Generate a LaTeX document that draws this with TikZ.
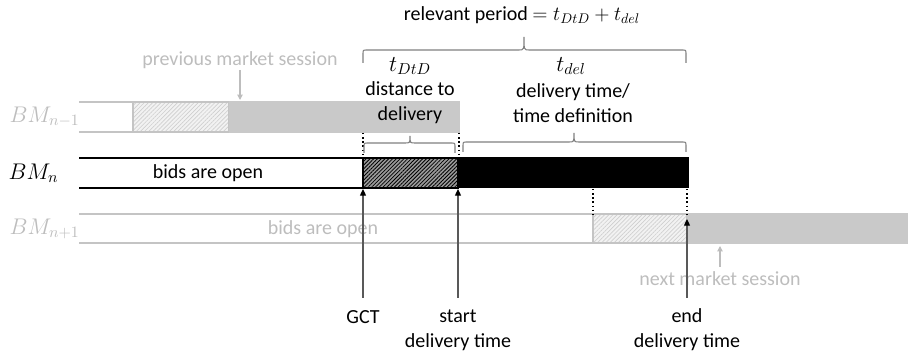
\RequirePackage{fix-cm}
\documentclass[tikz,border=0pt]{standalone}
\usepackage{fontspec}
\setmainfont{Carlito}
\usetikzlibrary{arrows.meta,patterns.meta}
\definecolor{barGray}{HTML}{C9C9C9}
\definecolor{lineGray}{HTML}{C4C4C4}
\definecolor{textGray}{HTML}{BDBDBD}
\definecolor{braceGray}{HTML}{808080}
\definecolor{shaftGray}{HTML}{595959}
\definecolor{hatchLightBg}{HTML}{F2F2F2}
\definecolor{hatchLightLn}{HTML}{CFCFCF}
\definecolor{hatchDarkBg}{HTML}{9A9A9A}
\newcommand{\mybrace}[6]{% x1 x2 xm yend yline ytip
  \draw[bracestyle] (#1,#4) -- (#1,#5+4) .. controls (#1,#5) .. (#1+4,#5) -- (#3-5,#5) .. controls (#3,#5) .. (#3,#6)
    .. controls (#3,#5) .. (#3+5,#5) -- (#2-4,#5) .. controls (#2,#5) .. (#2,#5+4) -- (#2,#4);}
\begin{document}
\begin{tikzpicture}[x=0.75pt,y=-0.75pt,
  every node/.style={font=\fontsize{15}{18.75}\selectfont, inner sep=1pt},
  txt/.style={align=center},
  gtxt/.style={align=center,text=textGray},
  mathlbl/.style={font=\fontsize{17}{20}\selectfont},
  bracestyle/.style={draw=braceGray,line width=0.8pt},
  blackline/.style={draw=black,line width=1.1pt},
  grayline/.style={draw=lineGray,line width=1.3pt},
  dotline/.style={draw=black,dotted,line width=1.1pt},
  uparrow/.style={draw=shaftGray,line width=0.9pt,-{Triangle[length=5pt,width=4.5pt,color=black]}},
  grayarrow/.style={draw=textGray,line width=0.8pt,-{Triangle[length=4pt,width=4pt]}}]
\useasboundingbox (0,0) rectangle (908,359);

% ---- BM_{n-1} row
\draw[grayline] (79,102) -- (133,102);
\draw[grayline] (79,132) -- (133,132);
\fill[hatchLightBg] (133,102) rectangle (229,132);
\path[pattern={Lines[angle=45,distance=2.2pt,line width=0.5pt]},pattern color=hatchLightLn] (133,102) rectangle (229,132);
\draw[lineGray,line width=1pt] (133,102) rectangle (229,132);
\fill[barGray] (229,101.3) rectangle (460,132.7);

% ---- BM_n row
\draw[blackline] (79,158) -- (363,158);
\draw[blackline] (79,188) -- (363,188);
\fill[hatchDarkBg] (363,158) rectangle (458,188);
\path[pattern={Lines[angle=45,distance=2pt,line width=0.6pt]},pattern color=black] (363,158) rectangle (458,188);
\draw[black,line width=1.1pt] (363,158) rectangle (458,188);
\fill[black] (458,157.5) rectangle (689,188.5);

% ---- BM_{n+1} row
\draw[grayline] (79,214) -- (593,214);
\draw[grayline] (79,243) -- (593,243);
\fill[hatchLightBg] (593,214) rectangle (687,243);
\path[pattern={Lines[angle=45,distance=2.2pt,line width=0.5pt]},pattern color=hatchLightLn] (593,214) rectangle (687,243);
\draw[lineGray,line width=1pt] (593,214) rectangle (687,243);
\fill[barGray] (687,213.3) rectangle (908,243.7);

% ---- dotted verticals
\draw[dotline] (363,133) -- (363,158);
\draw[dotline] (459,133) -- (459,158);
\draw[dotline] (593,189) -- (593,214);
\draw[dotline] (687,189) -- (687,214);

% ---- row labels
\node[mathlbl,anchor=west,text=textGray] (bmprev) at (8,117) {$BM_{n-1}$};
\node[mathlbl,anchor=west] (bmcur) at (7,173) {$BM_{n}$};
\node[mathlbl,anchor=west,text=textGray] (bmnext) at (8,229) {$BM_{n+1}$};

% ---- in-bar texts
\node[txt] (open) at (208,173) {bids are open};
\node[gtxt] (opennext) at (323,229) {bids are open};

% ---- session labels
\node[gtxt] (prevsess) at (240,60) {previous market session};
\coordinate (prevtop) at (240,70);
\coordinate (prevbar) at (240,100);
\draw[grayarrow] (prevtop) -- (prevbar);
\node[gtxt] (nextsess) at (720,279) {next market session};
\coordinate (nextbot) at (720,267);
\coordinate (nextbar) at (720,246);
\draw[grayarrow] (nextbot) -- (nextbar);

% ---- braces and their labels
\mybrace{363}{686}{524}{63}{50}{37}
\node[txt] (relevant) at (522,15) {relevant period $=t_{DtD}+t_{del}$};
\mybrace{364}{455}{410}{153}{143}{136}
\mybrace{463}{686}{574}{152}{142}{133}
\node[txt,mathlbl] (dtd) at (410,66) {$t_{DtD}$};
\node[txt] (dtdtxt) at (410,103) {distance to\\delivery};
\node[txt,mathlbl] (del) at (571,66) {$t_{del}$};
\node[txt] (deltxt) at (573,103) {delivery time/\\time definition};

% ---- time point arrows
\node[txt] (gct) at (363,317) {GCT};
\node[txt] (start) at (458,330) {start\\delivery time};
\node[txt] (endt) at (687,330) {end\\delivery time};
\coordinate (gctlow) at (363,298);
\coordinate (gcthigh) at (363,189);
\coordinate (startlow) at (458,298);
\coordinate (starthigh) at (458,189);
\coordinate (endlow) at (687,298);
\coordinate (endhigh) at (687,219);
\draw[uparrow] (gctlow) -- (gcthigh);
\draw[uparrow] (startlow) -- (starthigh);
\draw[uparrow] (endlow) -- (endhigh);
\end{tikzpicture}
\end{document}
